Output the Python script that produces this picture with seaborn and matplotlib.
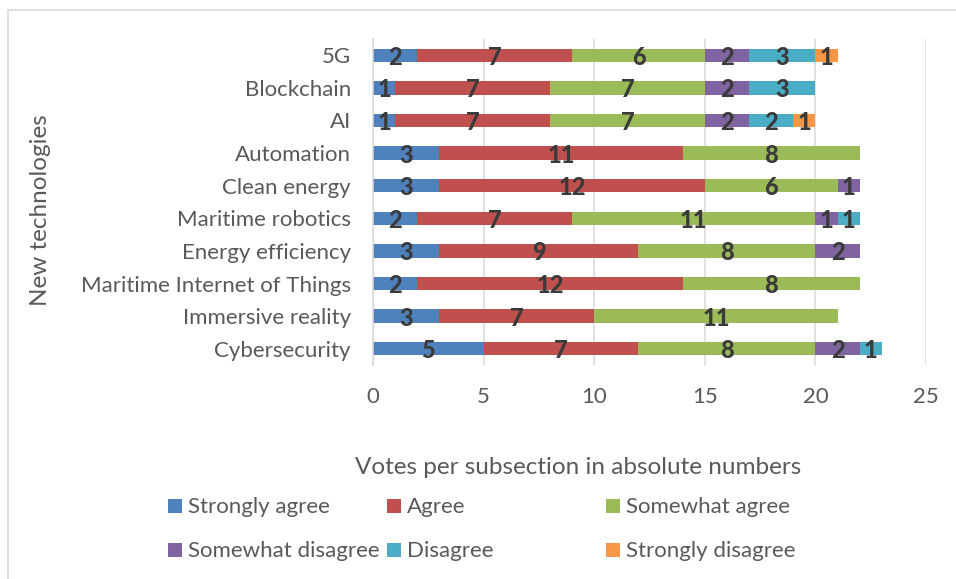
import matplotlib
matplotlib.use("Agg")
import matplotlib.pyplot as plt
from matplotlib.patches import Rectangle
import seaborn as sns
import numpy as np

technologies = ["5G", "Blockchain", "AI", "Automation", "Clean energy",
                "Maritime robotics", "Energy efficiency",
                "Maritime Internet of Things", "Immersive reality", "Cybersecurity"]

strongly_agree    = [2, 1, 1, 3, 3, 2, 3, 2, 3, 5]
agree             = [7, 7, 7, 11, 12, 7, 9, 12, 7, 7]
somewhat_agree    = [6, 7, 7, 8, 6, 11, 8, 8, 11, 8]
somewhat_disagree = [2, 2, 2, 0, 1, 1, 2, 0, 0, 2]
disagree          = [3, 3, 2, 0, 0, 1, 0, 0, 0, 1]
strongly_disagree = [1, 0, 1, 0, 0, 0, 0, 0, 0, 0]

series_names = ["Strongly agree", "Agree", "Somewhat agree",
                "Somewhat disagree", "Disagree", "Strongly disagree"]
series_values = [strongly_agree, agree, somewhat_agree,
                 somewhat_disagree, disagree, strongly_disagree]
series_colors = ["#4F81BD", "#C0504D", "#9BBB59", "#8064A2", "#4BACC6", "#F79646"]

x_ticks = [0, 5, 10, 15, 20, 25]

sns.set_theme(style="white")
plt.rcParams["font.family"] = ["Lato", "DejaVu Sans"]

TEXT = "#595959"
GRID = "#D9D9D9"
W, H = 956, 579

fig = plt.figure(figsize=(W / 100, H / 100), dpi=100)
ax = fig.add_axes([373 / W, 1 - 365 / H, (926 - 373) / W, (365 - 39) / H])

left = np.zeros(len(technologies))
for name, vals, col in zip(series_names, series_values, series_colors):
    vals = np.array(vals, dtype=float)
    sns.barplot(x=vals, y=technologies, order=technologies, orient="y",
                color=col, width=0.41, left=left, ax=ax, saturation=1,
                linewidth=0)
    for i, v in enumerate(vals):
        if v > 0:
            ax.annotate(f"{int(v)}", xy=(left[i] + v / 2, i), xytext=(0, -1.5),
                        textcoords="offset points", ha="center", va="center",
                        fontsize=17, fontweight="black", color="#3A3A3A")
    left = left + vals

ax.set_xlim(0, 25)
ax.set_xticks(x_ticks)
ax.set_xticklabels([str(t) for t in x_ticks])
ax.set_ylim(len(technologies) - 0.5, -0.5)
ax.set_xlabel("")
ax.set_ylabel("")
ax.grid(axis="x", color=GRID, linewidth=1.1)
ax.grid(axis="y", visible=False)
ax.set_axisbelow(True)
for s in ["top", "right", "bottom"]:
    ax.spines[s].set_visible(False)
ax.spines["left"].set_color(GRID)
ax.spines["left"].set_linewidth(1.1)
ax.tick_params(axis="x", length=0, pad=16, labelsize=16, labelcolor=TEXT)
ax.tick_params(axis="y", length=0, pad=16, labelsize=16, labelcolor=TEXT)

# axis titles
fig.text(578 / W, 1 - 467 / H, "Votes per subsection in absolute numbers",
         ha="center", va="center", fontsize=17.5, color=TEXT)
fig.text(41 / W, 1 - 210 / H, "New technologies", rotation=90,
         ha="center", va="center", fontsize=17.5, color=TEXT)

# legend entries laid out in a 3-column grid
for k, (name, col) in enumerate(zip(series_names, series_colors)):
    c, r = k % 3, k // 3
    x0 = 168 + c * 219
    yc = 506 + r * 44
    fig.patches.append(Rectangle((x0 / W, 1 - (yc + 7) / H), 14 / W, 14 / H,
                                 transform=fig.transFigure, facecolor=col,
                                 edgecolor="none"))
    fig.text((x0 + 20) / W, 1 - (yc + 1) / H, name, ha="left", va="center",
             fontsize=16, color=TEXT)

# chart frame
fig.patches.append(Rectangle((8 / W, -0.2), 1.2, 1 - 10 / H + 0.2,
                             transform=fig.transFigure, facecolor="none",
                             edgecolor=GRID, linewidth=1.2))

fig.savefig("out.png", dpi=100)
